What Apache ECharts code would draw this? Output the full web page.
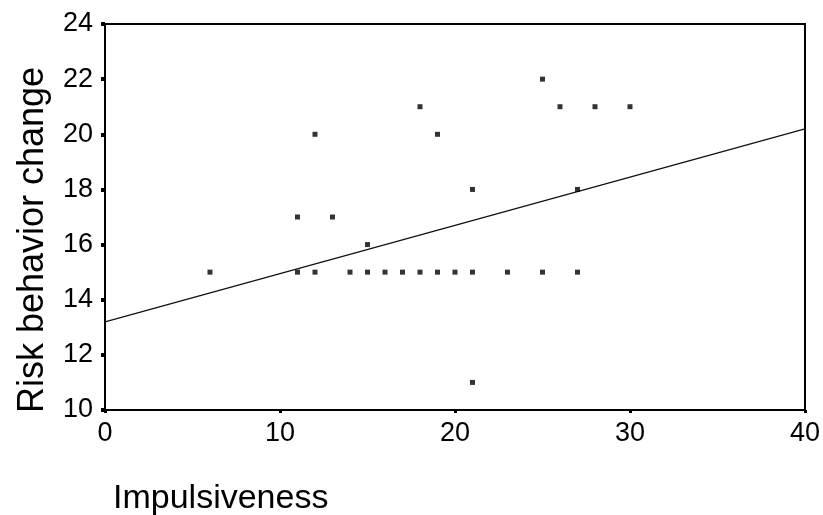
<!DOCTYPE html>
<html>
<head>
<meta charset="utf-8">
<script src="https://cdn.jsdelivr.net/npm/echarts@6/dist/echarts.min.js"></script>
<style>html,body{margin:0;padding:0;background:#fff;}#c{width:823px;height:515px;}</style>
</head>
<body>
<div id="c"></div>
<script>
// Impulsiveness (x) vs Risk behavior change (y)
const impulsiveness = [6, 11, 12, 14, 15, 16, 17, 18, 19, 20, 21, 23, 25, 27,
                       11, 12, 13, 15, 18, 19, 21, 21, 25, 26, 27, 28, 30];
const riskChange    = [15, 15, 15, 15, 15, 15, 15, 15, 15, 15, 15, 15, 15, 15,
                       17, 20, 17, 16, 21, 20, 18, 11, 22, 21, 18, 21, 21];
// Fit line endpoints as drawn
const fitX = [0, 40];
const fitY = [13.2, 20.2];
const xTicks = [0, 10, 20, 30, 40];
const yTicks = [10, 12, 14, 16, 18, 20, 22, 24];

const points = impulsiveness.map((x, i) => [x, riskChange[i]]);
const fitLine = fitX.map((x, i) => [x, fitY[i]]);
const FONT = 'Liberation Sans';

const chart = echarts.init(document.getElementById('c'), null, {renderer: 'canvas'});
chart.setOption({
  backgroundColor: '#fff',
  animation: false,
  title: {
    text: 'Impulsiveness',
    left: 108, top: 477,
    textStyle: {fontFamily: FONT, fontSize: 34, fontWeight: 'normal', color: '#000'}
  },
  grid: {left: 105, right: 17, top: 24, bottom: 105, show: true, borderColor: '#000', borderWidth: 2, backgroundColor: 'transparent'},
  xAxis: {
    type: 'value', min: xTicks[0], max: xTicks[xTicks.length - 1], interval: 10,
    axisLine: {show: true, lineStyle: {color: '#000', width: 2}},
    axisTick: {show: true, length: 3, lineStyle: {color: '#000', width: 3}},
    axisLabel: {color: '#000', fontFamily: FONT, fontSize: 27, margin: 10},
    splitLine: {show: false}
  },
  yAxis: {
    type: 'value', min: yTicks[0], max: yTicks[yTicks.length - 1], interval: 2,
    name: 'Risk behavior change', nameLocation: 'middle', nameRotate: 90, nameGap: 54,
    nameTextStyle: {fontFamily: FONT, fontSize: 36, color: '#000', padding: [0, 46, 0, 0]},
    axisLine: {show: true, lineStyle: {color: '#000', width: 2}},
    axisTick: {show: true, length: 4, lineStyle: {color: '#000', width: 4}},
    axisLabel: {color: '#000', fontFamily: FONT, fontSize: 27, margin: 12},
    splitLine: {show: false}
  },
  series: [
    {
      type: 'line', data: fitLine, symbol: 'none',
      lineStyle: {color: '#111', width: 1.3}, z: 2
    },
    {
      type: 'scatter', data: points, symbol: 'rect', symbolSize: 5,
      itemStyle: {color: '#000'}, z: 3
    }
  ]
});
</script>
</body>
</html>
